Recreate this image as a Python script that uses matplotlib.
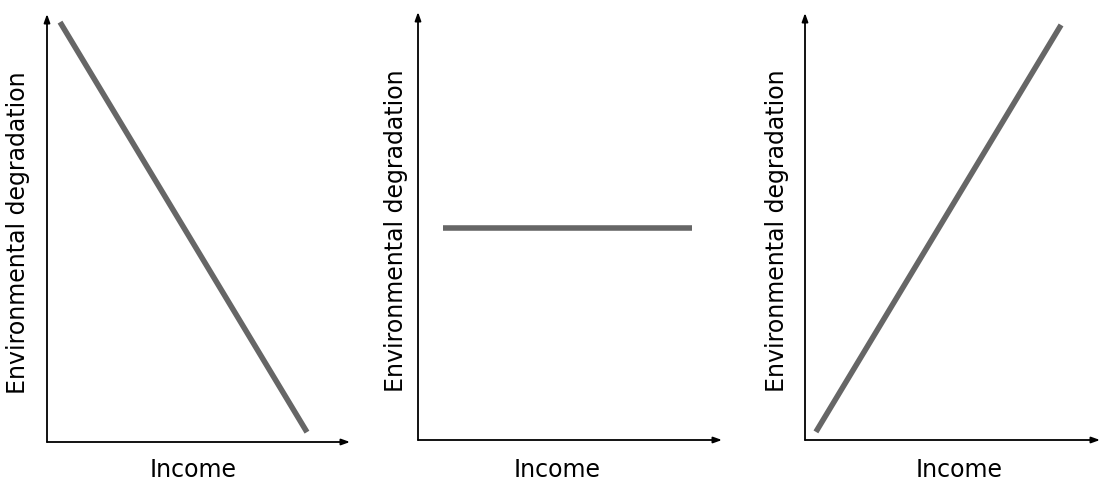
import matplotlib
matplotlib.use("Agg")
import matplotlib.pyplot as plt

# three stylised views of income vs environmental degradation
income_falling = [0.043, 0.858]
degradation_falling = [0.981, 0.023]

income_flat = [0.082, 0.900]
degradation_flat = [0.495, 0.495]

income_rising = [0.037, 0.868]
degradation_rising = [0.019, 0.972]

x_label = "Income"
y_label = "Environmental degradation"

W, H = 1101, 480
LINE_COLOR = "#666666"
FONT = 17


def px_axes(fig, x0, x1, y_top, y_bottom):
    # axes box given in pixel coordinates of the reference picture
    return fig.add_axes([x0 / W, (H - y_bottom) / H, (x1 - x0) / W, (y_bottom - y_top) / H])


def draw_panel(ax, xs, ys, ylab_x, ylab_y, xlab_x, xlab_y):
    ax.plot(xs, ys, color=LINE_COLOR, lw=4, solid_capstyle="butt")
    ax.set_xlim(0, 1)
    ax.set_ylim(0, 1)
    for s in ax.spines.values():
        s.set_visible(False)
    ax.set_xticks([])
    ax.set_yticks([])
    arrow = dict(arrowstyle="-|>,head_length=0.5,head_width=0.18", color="black", lw=1.3,
                 shrinkA=0, shrinkB=0)
    ax.annotate("", xy=(1, 0), xytext=(0, 0), xycoords="axes fraction", arrowprops=arrow,
                annotation_clip=False)
    ax.annotate("", xy=(0, 1), xytext=(0, 0), xycoords="axes fraction", arrowprops=arrow,
                annotation_clip=False)
    ax.text(xlab_x, xlab_y, x_label, fontsize=FONT, ha="center", va="center",
            transform=ax.transAxes, clip_on=False)
    ax.text(ylab_x, ylab_y, y_label, fontsize=FONT, ha="center", va="center",
            rotation=90, transform=ax.transAxes, clip_on=False)


fig = plt.figure(figsize=(W / 100, H / 100), dpi=100)

ax1 = px_axes(fig, 47, 350, 14, 442)
draw_panel(ax1, income_falling, degradation_falling, -29 / 303, 0.49, (193 - 47) / 303, -28 / 428)

ax2 = px_axes(fig, 418, 722, 12, 440)
draw_panel(ax2, income_flat, degradation_flat, -22 / 304, 0.49, (557 - 418) / 304, -30 / 428)

ax3 = px_axes(fig, 805, 1100, 13, 440)
draw_panel(ax3, income_rising, degradation_rising, -28 / 295, 0.49, (959 - 805) / 295, -30 / 428)

fig.savefig("out.png", dpi=100)
